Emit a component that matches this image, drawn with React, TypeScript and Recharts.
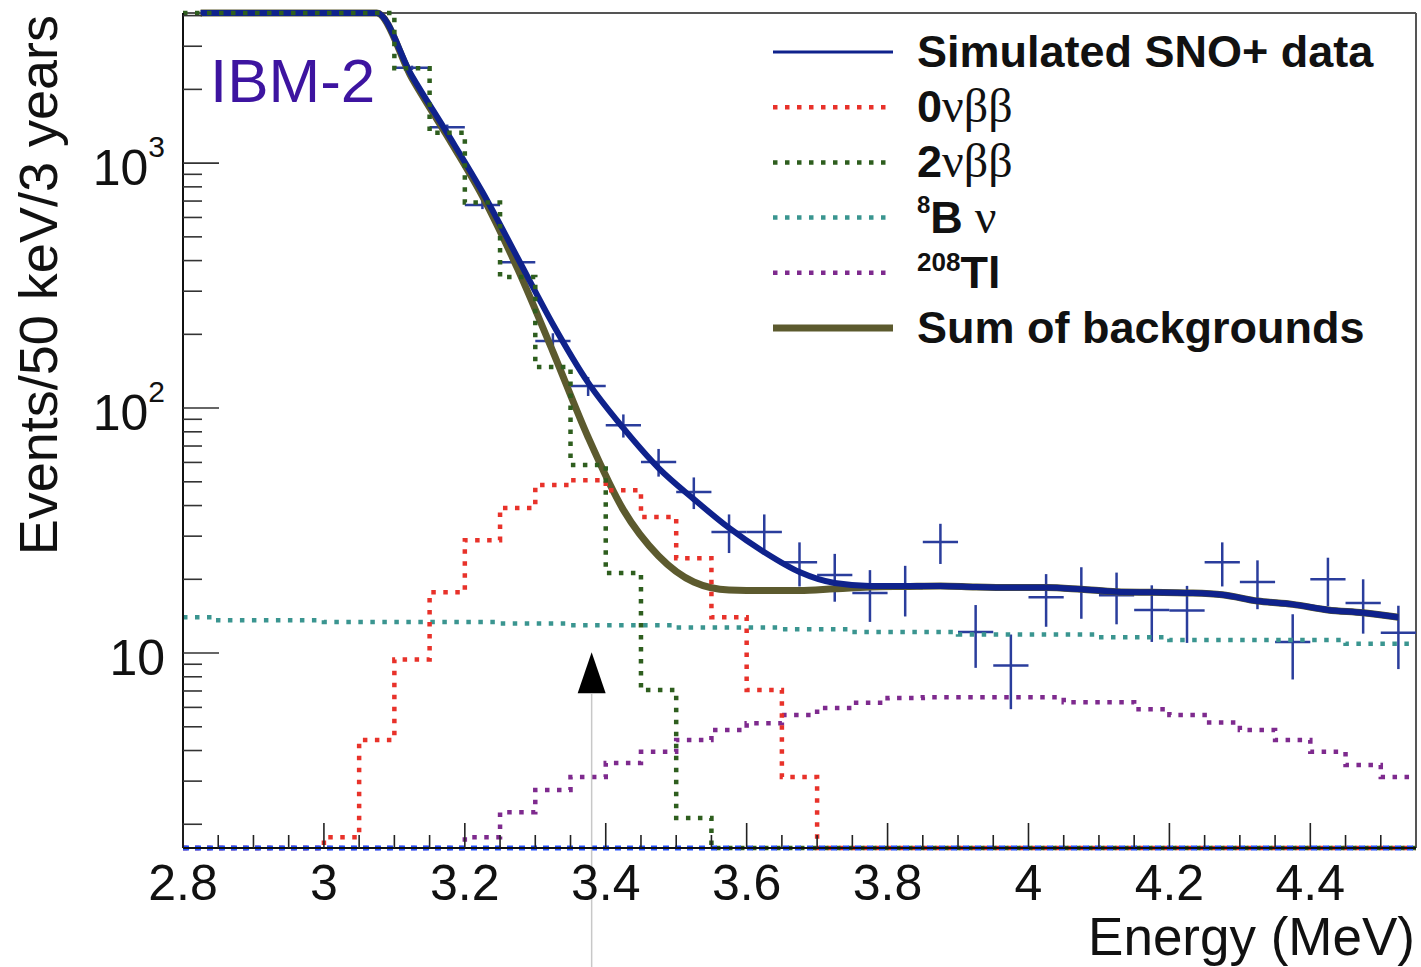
import React from 'react';
import {
  ComposedChart,
  Line,
  Scatter,
  ErrorBar,
  XAxis,
  YAxis,
  ReferenceLine,
  ReferenceDot,
  Legend,
  Label,
} from 'recharts';

const FONT = '"Liberation Sans", Arial, Helvetica, sans-serif';
const SERIF = '"Liberation Serif", "Times New Roman", serif';

// 50 keV bins between 2.8 and 4.55 MeV
const BIN_EDGES = [
  2.8, 2.85, 2.9, 2.95, 3.0, 3.05, 3.1, 3.15, 3.2, 3.25, 3.3, 3.35, 3.4, 3.45, 3.5, 3.55, 3.6, 3.65,
  3.7, 3.75, 3.8, 3.85, 3.9, 3.95, 4.0, 4.05, 4.1, 4.15, 4.2, 4.25, 4.3, 4.35, 4.4, 4.45, 4.5, 4.55,
];
const BIN_CENTERS = [
  2.825, 2.875, 2.925, 2.975, 3.025, 3.075, 3.125, 3.175, 3.225, 3.275, 3.325, 3.375, 3.425, 3.475,
  3.525, 3.575, 3.625, 3.675, 3.725, 3.775, 3.825, 3.875, 3.925, 3.975, 4.025, 4.075, 4.125, 4.175,
  4.225, 4.275, 4.325, 4.375, 4.425, 4.475, 4.525,
];
const BIN_HALF_WIDTH = 0.025;

// histograms (events per bin); 1.6 = empty (sits on the frame), 4100 = off scale (top)
const ZERO_NU = [
  1.6, 1.6, 1.6, 1.6, 1.77, 4.42, 9.4, 17.7, 28.9, 39.1, 48.5, 50.8, 46.2, 35.9, 24.4, 14.0, 7.06, 3.12,
  1.6, 1.6, 1.6, 1.6, 1.6, 1.6, 1.6, 1.6, 1.6, 1.6, 1.6, 1.6, 1.6, 1.6, 1.6, 1.6, 1.6,
];
const TWO_NU = [
  4100, 4100, 4100, 4100, 4100, 4100, 2440, 1330, 690, 343, 147, 58.5, 21.2, 7.06, 2.12,
  1.6, 1.6, 1.6, 1.6, 1.6, 1.6, 1.6, 1.6, 1.6, 1.6, 1.6, 1.6, 1.6, 1.6, 1.6, 1.6, 1.6, 1.6, 1.6, 1.6,
];
const B8_NU = [
  14.0, 13.6, 13.6, 13.6, 13.4, 13.4, 13.4, 13.4, 13.4, 13.2, 13.2, 13.0, 13.0, 13.0, 12.7, 12.7, 12.7,
  12.5, 12.5, 12.2, 12.2, 12.2, 11.9, 11.9, 11.9, 11.9, 11.6, 11.6, 11.3, 11.3, 11.3, 11.3, 11.3, 10.9, 10.9,
];
const TL208 = [
  1.6, 1.6, 1.6, 1.6, 1.6, 1.6, 1.6, 1.6, 1.77, 2.24, 2.76, 3.12, 3.56, 3.95, 4.42, 4.85, 5.17, 5.58,
  5.97, 6.26, 6.55, 6.6, 6.6, 6.6, 6.6, 6.3, 6.3, 5.9, 5.58, 5.2, 4.85, 4.42, 3.95, 3.49, 3.12,
];

// smooth curves at bin centres
const FIT_TOTAL = [
  4100, 4100, 4100, 4100, 4100, 4100, 2265, 1325, 762, 410, 220, 127, 82.8, 56.9, 42.5, 32.4, 25.8, 21.4,
  19.3, 18.8, 18.8, 18.8, 18.6, 18.5, 18.5, 18.2, 17.8, 17.7, 17.6, 17.3, 16.3, 15.8, 15.0, 14.6, 14.0,
];
const SUM_BKG = [
  4100, 4100, 4100, 4100, 4100, 4100, 2220, 1290, 733, 370, 170, 76, 38.4, 24.9, 19.5, 18.1, 18.0, 18.0,
  18.3, 18.6, 18.7, 18.8, 18.6, 18.5, 18.5, 18.2, 17.8, 17.7, 17.6, 17.3, 16.3, 15.8, 15.0, 14.6, 14.0,
];

// simulated data points, bins 6..34 (lower bins are off scale)
const DATA_FIRST_BIN = 6;
const DATA_Y = [
  2450, 1400, 675, 394, 188, 123, 85, 60.3, 45.4, 31.2, 31.2, 23.5, 20.8, 17.6, 18.4, 28.4, 12.2, 8.9,
  16.9, 18.1, 17.2, 15.0, 14.9, 23.5, 19.5, 11.1, 20.0, 16.0, 12.1,
];
const DATA_ERR = [
  49, 37, 26, 20, 14, 11, 9.2, 7.8, 6.7, 5.6, 5.6, 4.8, 4.6, 4.2, 4.3, 5.3, 3.5, 3.0, 4.1, 4.3, 4.1,
  3.9, 3.9, 4.8, 4.4, 3.3, 4.5, 4.0, 3.5,
];

const Q_VALUE = 3.38;

const X_MAJOR = [2.8, 3, 3.2, 3.4, 3.6, 3.8, 4, 4.2, 4.4];
const X_MINOR = [
  2.85, 2.9, 2.95, 3.05, 3.1, 3.15, 3.25, 3.3, 3.35, 3.45, 3.5, 3.55, 3.65, 3.7, 3.75, 3.85, 3.9, 3.95,
  4.05, 4.1, 4.15, 4.25, 4.3, 4.35, 4.45, 4.5,
];
const Y_MAJOR = [10, 100, 1000];
const Y_MINOR = [2, 3, 4, 5, 6, 7, 8, 9, 20, 30, 40, 50, 60, 70, 80, 90, 200, 300, 400, 500, 600, 700, 800, 900, 2000, 3000, 4000];

const X_DOMAIN = [2.8, 4.55];
const Y_DOMAIN = [1.6, 4100];

const BLUE = '#0f228c';
const CROSS = '#2a3d9c';
const OLIVE = '#5c5a2e';
const RED = '#e8322a';
const GREEN = '#2e5e1e';
const CYAN = '#3a9590';
const PURPLE = '#7e2a8e';
const FLOOR_BLUE = '#2450ff';

const histo = (vals: number[]) =>
  BIN_EDGES.map((x, i) => ({ x, y: vals[Math.min(i, vals.length - 1)] }));
const curve = (vals: number[]) => BIN_CENTERS.map((x, i) => ({ x, y: vals[i] }));
const points = DATA_Y.map((y, i) => ({
  x: BIN_CENTERS[i + DATA_FIRST_BIN],
  y,
  ey: DATA_ERR[i],
  ex: BIN_HALF_WIDTH,
}));
const floorLine = X_DOMAIN.map((x) => ({ x, y: Y_DOMAIN[0] }));

function XTick(props: any) {
  const { x, y, payload } = props;
  const major = X_MAJOR.includes(payload.value);
  return (
    <g>
      <line x1={x} x2={x} y1={y} y2={y - (major ? 25 : 13)} stroke="#222" strokeWidth={1.6} />
      {major && (
        <text x={x} y={y + 52} textAnchor="middle" fontSize={50} fontFamily={FONT} fill="#111">
          {payload.value}
        </text>
      )}
    </g>
  );
}

function YTick(props: any) {
  const { x, y, payload } = props;
  const v = payload.value;
  const major = Y_MAJOR.includes(v);
  const exp = Math.round(Math.log10(v));
  return (
    <g>
      <line x1={x} x2={x + (major ? 36 : 19)} y1={y} y2={y} stroke="#333" strokeWidth={1.6} />
      {major && (
        <text x={x - 18} y={y + 22} textAnchor="end" fontSize={50} fontFamily={FONT} fill="#111">
          10
          {exp > 1 && (
            <tspan dy={-28} fontSize={30}>
              {exp}
            </tspan>
          )}
        </text>
      )}
    </g>
  );
}

const LEGEND_ITEMS = [
  { key: 'data', color: BLUE, width: 3, dash: undefined as string | undefined },
  { key: '0nu', color: RED, width: 4.5, dash: '4.5 7.5' },
  { key: '2nu', color: GREEN, width: 4.5, dash: '4.5 7.5' },
  { key: 'b8', color: CYAN, width: 4.5, dash: '4.5 7.5' },
  { key: 'tl', color: PURPLE, width: 4.5, dash: '4.5 7.5' },
  { key: 'sum', color: OLIVE, width: 7, dash: undefined },
];

function legendLabel(key: string) {
  switch (key) {
    case 'data':
      return 'Simulated SNO+ data';
    case '0nu':
    case '2nu':
      return (
        <>
          <tspan>{key === '0nu' ? '0' : '2'}</tspan>
          <tspan fontFamily={SERIF} fontWeight="normal" fontSize={48}>
            νββ
          </tspan>
        </>
      );
    case 'b8':
      return (
        <>
          <tspan fontSize={24} dy={-20}>
            8
          </tspan>
          <tspan dy={20}>B</tspan>
          <tspan fontFamily={SERIF} fontWeight="normal" fontSize={48}>
            {' ν'}
          </tspan>
        </>
      );
    case 'tl':
      return (
        <>
          <tspan fontSize={26} dy={-17}>
            208
          </tspan>
          <tspan dy={17}>Tl</tspan>
        </>
      );
    default:
      return 'Sum of backgrounds';
  }
}

function LegendBox() {
  const rowGap = 55.2;
  return (
    <svg width={660} height={345} style={{ overflow: 'visible' }}>
      {LEGEND_ITEMS.map((it, i) => {
        const base = 47 + i * rowGap;
        return (
          <g key={it.key}>
            <line
              x1={13}
              x2={133}
              y1={base - 15}
              y2={base - 15}
              stroke={it.color}
              strokeWidth={it.width}
              strokeDasharray={it.dash}
            />
            <text x={157} y={base} fontSize={45} fontWeight="bold" fontFamily={FONT} fill="#111">
              {legendLabel(it.key)}
            </text>
          </g>
        );
      })}
    </svg>
  );
}

function QArrow(props: any) {
  const { cx, cy } = props;
  return <polygon points={`${cx},${cy - 22} ${cx - 14},${cy + 19} ${cx + 14},${cy + 19}`} fill="#000" />;
}

export default function App() {
  return (
    <div style={{ position: 'absolute', left: 0, top: 0, width: 1421, height: 967, background: '#fff' }}>
      <ComposedChart width={1421} height={967} margin={{ top: 13, right: 5, bottom: 0, left: 0 }}>
        <XAxis
          type="number"
          dataKey="x"
          domain={X_DOMAIN}
          ticks={[...X_MAJOR, ...X_MINOR]}
          interval={0}
          tick={<XTick />}
          tickLine={false}
          tickSize={0}
          tickMargin={0}
          height={119}
          axisLine={{ stroke: '#111', strokeWidth: 2 }}
        >
          <Label
            content={(p: any) => {
              const vb = p.viewBox;
              return (
                <text x={vb.x + vb.width - 1} y={vb.y + 107} textAnchor="end" fontSize={53} fontFamily={FONT} fill="#111">
                  Energy (MeV)
                </text>
              );
            }}
          />
        </XAxis>
        <YAxis
          type="number"
          scale="log"
          domain={Y_DOMAIN}
          ticks={[...Y_MAJOR, ...Y_MINOR]}
          interval={0}
          tick={<YTick />}
          tickLine={false}
          tickSize={0}
          tickMargin={0}
          width={183}
          axisLine={{ stroke: '#111', strokeWidth: 2 }}
        >
          <Label
            content={(p: any) => {
              const vb = p.viewBox;
              const tx = vb.x + 57;
              const ty = vb.y + 2;
              return (
                <text
                  x={tx}
                  y={ty}
                  transform={`rotate(-90, ${tx}, ${ty})`}
                  textAnchor="end"
                  fontSize={54}
                  fontFamily={FONT}
                  fill="#111"
                >
                  Events/50 keV/3 years
                </text>
              );
            }}
          />
        </YAxis>

        {/* top and right sides of the frame */}
        <ReferenceLine y={Y_DOMAIN[1]} stroke="#555" strokeWidth={2} />
        <ReferenceLine x={X_DOMAIN[1]} stroke="#555" strokeWidth={2} />

        <Scatter data={points} dataKey="y" shape={() => <g />} isAnimationActive={false}>
          <ErrorBar dataKey="ey" direction="y" width={0} stroke={CROSS} strokeWidth={2.5} />
          <ErrorBar dataKey="ex" direction="x" width={0} stroke={CROSS} strokeWidth={2.5} />
        </Scatter>

        <Line data={curve(SUM_BKG)} dataKey="y" type="monotone" stroke={OLIVE} strokeWidth={7} dot={false} activeDot={false} isAnimationActive={false} />
        <Line data={curve(FIT_TOTAL)} dataKey="y" type="monotone" stroke={BLUE} strokeWidth={6} dot={false} activeDot={false} isAnimationActive={false} />

        <Line data={histo(B8_NU)} dataKey="y" type="stepAfter" stroke={CYAN} strokeWidth={4.5} strokeDasharray="4.5 7.5" dot={false} activeDot={false} isAnimationActive={false} />
        <Line data={histo(TL208)} dataKey="y" type="stepAfter" stroke={PURPLE} strokeWidth={4.5} strokeDasharray="4.5 7.5" dot={false} activeDot={false} isAnimationActive={false} />
        <Line data={histo(ZERO_NU)} dataKey="y" type="stepAfter" stroke={RED} strokeWidth={4.5} strokeDasharray="4.5 7.5" dot={false} activeDot={false} isAnimationActive={false} />
        <Line data={histo(TWO_NU)} dataKey="y" type="stepAfter" stroke={GREEN} strokeWidth={4.5} strokeDasharray="4.5 7.5" dot={false} activeDot={false} isAnimationActive={false} />

        {/* blue dotted line lying on the lower frame */}
        <Line data={floorLine} dataKey="y" type="linear" stroke={FLOOR_BLUE} strokeWidth={5} strokeDasharray="6 6" dot={false} activeDot={false} isAnimationActive={false} />

        <ReferenceLine
          segment={[
            { x: Q_VALUE, y: 6.8 },
            { x: Q_VALUE, y: 0.5 },
          ]}
          stroke="#c8c8c8"
          strokeWidth={1.5}
          ifOverflow="visible"
        />
        <ReferenceDot x={Q_VALUE} y={8.2} r={1} shape={<QArrow />} ifOverflow="visible" />

        <Legend
          layout="horizontal"
          verticalAlign="middle"
          align="center"
          content={() => <LegendBox />}
          wrapperStyle={{ left: 760, top: 20, width: 660, height: 345 }}
        />
      </ComposedChart>
      <svg
        width={1421}
        height={967}
        style={{ position: 'absolute', left: 0, top: 0, pointerEvents: 'none' }}
      >
        <text x={210} y={102} fontSize={62} fontFamily={FONT} fill="#3d14a0">
          IBM-2
        </text>
      </svg>
    </div>
  );
}
